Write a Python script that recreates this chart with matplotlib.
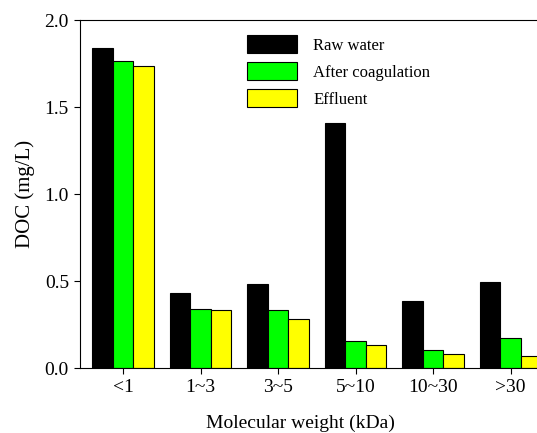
import numpy as np
import matplotlib
matplotlib.use("Agg")
import matplotlib.pyplot as plt

categories = ["<1", "1~3", "3~5", "5~10", "10~30", ">30"]
raw_water = [1.84, 0.433, 0.483, 1.41, 0.383, 0.492]
after_coag = [1.766, 0.341, 0.332, 0.155, 0.105, 0.174]
effluent = [1.738, 0.332, 0.282, 0.134, 0.082, 0.071]
series_names = ["Raw water", "After coagulation", "Effluent"]
colors = ["#000000", "#00ff00", "#ffff00"]

plt.rcParams['font.family'] = ['Liberation Serif', 'DejaVu Serif']

fig = plt.figure(figsize=(5.37, 4.33), dpi=100)
ax = fig.add_axes([0.149, 0.150, 0.8734, 0.8037])

x = np.arange(len(categories))
w = 0.265
for i, (vals, name, c) in enumerate(zip([raw_water, after_coag, effluent], series_names, colors)):
    ax.bar(x + (i - 1) * w, vals, w, color=c, edgecolor="black", linewidth=0.8, label=name)

ax.set_xlim(-0.555, 5.495)
ax.set_ylim(0, 2.0)
ax.set_yticks([0.0, 0.5, 1.0, 1.5, 2.0])
ax.set_yticklabels(["0.0", "0.5", "1.0", "1.5", "2.0"])
ax.set_xticks(x)
ax.set_xticklabels(categories)
ax.tick_params(direction="out", length=4, width=0.8, labelsize=14, pad=4)
for s in ax.spines.values():
    s.set_linewidth(0.8)

ax.set_ylabel("DOC (mg/L)", fontsize=15, labelpad=7)
ax.set_xlabel("Molecular weight (kDa)", fontsize=14, labelpad=13, x=0.47)

ax.legend(loc="upper left", bbox_to_anchor=(0.325, 1.0), frameon=False, fontsize=12,
          handlelength=2.95, handleheight=1.3, labelspacing=0.5, handletextpad=1.0)

fig.savefig("out.png", dpi=100)
